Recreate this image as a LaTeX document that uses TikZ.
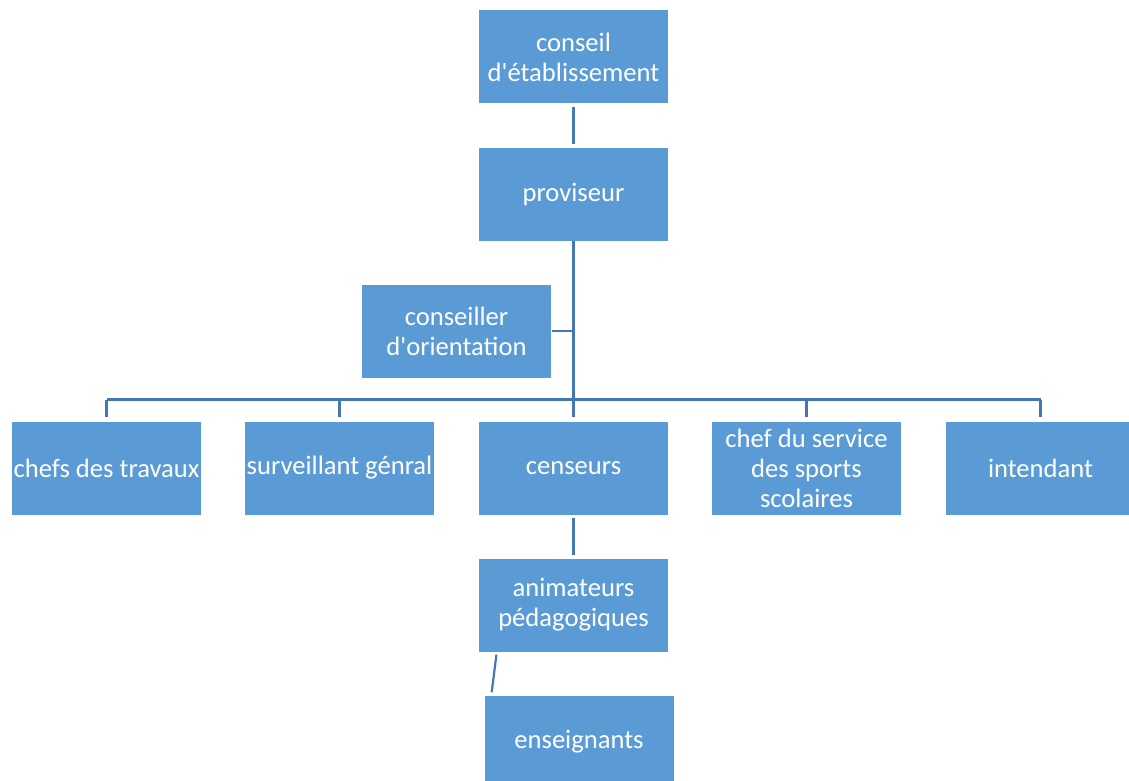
\documentclass[tikz,border=0pt]{standalone}
\usepackage{fontspec}
\setmainfont{Carlito}[Ligatures=TeXOff]
\definecolor{boxblue}{RGB}{91,155,213}
\definecolor{lineblue}{RGB}{68,120,178}
\begin{document}
\begin{tikzpicture}[x=1pt,y=-1pt,
  box/.style={fill=boxblue,minimum width=189pt,minimum height=93pt,inner sep=0pt,align=center,text=white,font=\fontsize{26.6}{30}\selectfont},
  conn/.style={draw=lineblue,line width=2.2pt}]
\useasboundingbox[fill=white] (0,0) rectangle (1129,781);
\node[box] (ce) at (573.5,57) {conseil\\d'établissement};
\node[box] (pv) at (573.5,194) {proviseur};
\node[box] (co) at (456.5,331) {conseiller\\d'orientation};
\node[box] (chefs) at (106.5,468) {chefs des travaux};
\node[box] (surv) at (339.5,468) {surveillant génral};
\node[box] (cens) at (573.5,468) {censeurs};
\node[box] (sport) at (806.5,468) {chef du service\\des sports\\scolaires};
\node[box] (int) at (1040.5,468) {intendant};
\node[box] (anim) at (573.5,605) {animateurs\\pédagogiques};
\node[box] (ens) at (579,742) {enseignants};
\coordinate (bus) at (0,399.5);
\draw[conn,shorten <=3pt,shorten >=3pt] (ce.south) -- (pv.north);
\draw[conn,shorten >=4pt] (pv.south) -- (cens.north);
\draw[conn,shorten <=1pt] (co.east) -- (co.east -| pv.south);
\draw[conn] (chefs.north |- bus) -- (int.north |- bus);
\foreach \n in {chefs,surv,sport,int}{
  \draw[conn,shorten >=4pt] (\n.north |- bus) -- (\n.north);
}
\draw[conn,shorten <=3pt,shorten >=3pt] (cens.south) -- (anim.north);
\draw[conn,shorten <=3pt,shorten >=3pt] ([xshift=18pt]anim.south west) -- ([xshift=7pt]ens.north west);
\end{tikzpicture}
\end{document}
